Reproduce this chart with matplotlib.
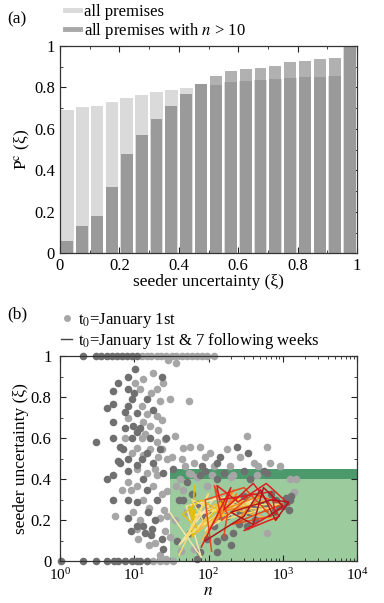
import numpy as np
from matplotlib import pyplot as plt
from matplotlib.lines import Line2D

plt.rcParams['font.family'] = ['Liberation Serif', 'DejaVu Serif']
plt.rcParams['mathtext.fontset'] = 'stix'

# ---- panel (a): cumulative fraction per bin of seeder uncertainty
bin_centres = np.arange(0.025, 1.0, 0.05)
pc_all = [0.693, 0.705, 0.709, 0.729, 0.750, 0.762, 0.777, 0.785, 0.796, 0.814,
          0.811, 0.825, 0.830, 0.835, 0.841, 0.844, 0.849, 0.851, 0.854, 1.0]
pc_n10 = [0.059, 0.133, 0.181, 0.319, 0.480, 0.568, 0.645, 0.709, 0.767, 0.814,
          0.856, 0.878, 0.886, 0.894, 0.902, 0.923, 0.929, 0.936, 0.941, 1.0]

# ---- panel (b): scatter of seeder uncertainty vs n (t0 = January 1st)
n_dark = [3.1, 4.3, 4.3, 5.2, 5.2, 5.2, 5.2, 5.2, 5.2, 6.1, 6.4, 6.4, 7.5, 7.5,
          8.3, 8.3, 8.3, 8.3, 8.3, 8.3, 8.3, 9.3, 9.3, 9.7, 10.3, 10.8, 10.8,
          10.8, 10.8, 10.8, 12.6, 13.3, 13.3, 14, 14.8, 14.8, 15.5, 16.3, 17.2,
          18.1, 18.1, 20, 23.5, 23.5, 24.7, 24.7, 33.6, 81, 130, 143, 240, 345,
          46, 56, 69, 77, 95, 117, 130, 143, 216, 265, 330, 405, 750, 1000,
          1250, 1130, 51, 77, 130, 365, 610,
          7, 9, 12, 15, 19, 22, 27, 6, 10, 17,
          100, 120, 150, 180, 220, 260, 300, 350, 420, 500, 600, 800, 900,
          1100, 1300, 1200, 700, 160, 200, 130, 110, 85, 70, 60, 40, 38,
          90, 160, 300, 550,
          1.05, 2.06, 3.1, 4.3, 5.3, 6.1, 7.5, 9.3, 10.8, 12, 14.8,
          2.06, 3.1, 3.6, 4.3, 5.0, 5.8, 6.8, 7.9, 9.2, 10.8]
xi_dark = [0.58, 0.75, 0.40, 0.83, 0.77, 0.68, 0.60, 0.42, 0.30, 0.87, 0.56, 0.48,
           0.73, 0.65, 0.90, 0.84, 0.76, 0.50, 0.44, 0.30, 0.21, 0.79, 0.60,
           0.66, 0.94, 0.725, 0.63, 0.47, 0.29, 0.175, 0.50, 0.40, 0.175, 0.14,
           0.79, 0.53, 0.24, 0.60, 0.16, 0.74, 0.48, 0.30, 0.90, 0.11, 0.43,
           0.06, 0.45, 0.466, 0.48, 0.51, 0.56, 0.53,
           0.30, 0.14, 0.013, 0.045, 0.11, 0.175, 0.045, 0.22, 0.14, 0.24, 0.175,
           0.27, 0.24, 0.27, 0.30, 0.29, 0.385, 0.42, 0.40, 0.40, 0.43,
           0.55, 0.15, 0.65, 0.35, 0.20, 0.55, 0.60, 0.49, 0.82, 0.13,
           0.25, 0.20, 0.30, 0.22, 0.27, 0.18, 0.32, 0.24, 0.20, 0.28, 0.26,
           0.30, 0.27, 0.31, 0.32, 0.25, 0.33, 0.12, 0.08, 0.10, 0.18, 0.22,
           0.28, 0.33, 0.30, 0.10,
           0.44, 0.43, 0.44, 0.44,
           0.0, 0.0, 0.0, 0.0, 0.0, 0.0, 0.0, 0.0, 0.0, 0.0, 0.0,
           1.0, 1.0, 1.0, 1.0, 1.0, 1.0, 1.0, 1.0, 1.0, 1.0]
n_light = [5.5, 6.8, 7.5, 8.3, 8.3, 9.3, 9.7, 10.3, 10.8, 10.8, 11.4, 12, 12.6,
           12.6, 13.3, 13.3, 13.3, 14.8, 16.3, 16.3, 18.1, 18.1, 19, 20, 20, 20,
           20, 21, 22.4, 23.5, 23.5, 24.7, 26, 27.4, 27.4, 28.8, 30, 32, 35, 37,
           41, 43.6, 46, 48, 54, 56, 59, 63, 77, 90, 105, 117, 176, 195, 265,
           330, 405, 470, 610, 680, 920, 1250, 37, 51, 63, 176, 495, 610, 1400,
           95, 216, 16, 30, 22, 27,
           9, 11, 12, 14, 15, 17, 19, 21, 24, 26, 28, 13, 16, 22, 25, 11,
           45, 35, 42, 55, 70, 110, 200, 450, 1500,
           12.6, 14.8, 17, 20, 23, 27, 32, 37, 44, 51, 60, 69, 82, 95, 117,
           18, 22, 27, 33]
xi_light = [0.22, 0.35, 0.60, 0.70, 0.385, 0.53, 0.24, 0.87, 0.555, 0.37, 0.11,
            0.84, 0.76, 0.60, 0.89, 0.68, 0.30, 0.43, 0.66, 0.55, 0.92, 0.37,
            0.09, 0.84, 0.71, 0.58, 0.42, 0.51, 0.21, 0.69, 0.55, 0.87, 0.595,
            0.345, 0.22, 0.98, 0.79, 0.51, 0.61, 0.97, 0.40, 0.50, 0.555, 0.466,
            0.78, 0.56, 0.425, 0.48, 0.56, 0.51, 0.53, 0.466, 0.55, 0.466, 0.51,
            0.61, 0.48, 0.466, 0.56, 0.48, 0.466, 0.40, 0.37, 0.24, 0.06, 0.30,
            0.21, 0.14, 0.34, 0.37, 0.42, 0.08, 0.12, 0.03, 0.01,
            0.35, 0.45, 0.20, 0.62, 0.72, 0.82, 0.45, 0.64, 0.33, 0.15, 0.50,
            0.52, 0.26, 0.78, 0.25, 0.16,
            0.35, 0.20, 0.05, 0.43, 0.41, 0.42, 0.41, 0.42, 0.40,
            1.0, 1.0, 1.0, 1.0, 1.0, 1.0, 1.0, 1.0, 1.0, 1.0, 1.0, 1.0, 1.0,
            1.0, 1.0, 0.0, 0.0, 0.0, 0.0]

# ---- trajectories for t0 = January 1st & 7 following weeks
week_colours = ['#f3e4a8', '#e6be10', '#f8dc70', '#f4bc40',
                '#f08a20', '#e8481a', '#dc2020', '#b01820']
week_n = [
    [30, 80, 50, 200, 90, 400, 60, 150, 40, 120, 300],
    [65, 60, 55, 70, 45, 80, 120, 200, 60, 65],
    [40, 100, 50, 250, 700, 150, 1000, 90, 60, 180],
    [80, 200, 300, 150, 600, 800, 120, 70, 250, 400],
    [100, 180, 220, 130, 350, 250, 500, 180, 120, 240, 210],
    [110, 90, 300, 700, 200, 1000, 400, 150, 120, 180, 160],
    [80, 200, 160, 400, 900, 300, 1200, 600, 250, 130, 140, 700, 800],
    [90, 300, 500, 800, 1200, 700, 200, 400, 550, 1000, 650],
]
week_xi = [
    [0.24, 0.02, 0.27, 0.32, 0.15, 0.30, 0.22, 0.28, 0.08, 0.31, 0.25],
    [0.37, 0.20, 0.27, 0.16, 0.23, 0.30, 0.26, 0.33, 0.12, 0.25],
    [0.03, 0.33, 0.12, 0.30, 0.25, 0.27, 0.28, 0.18, 0.30, 0.22],
    [0.10, 0.34, 0.26, 0.22, 0.30, 0.20, 0.28, 0.14, 0.31, 0.24],
    [0.15, 0.30, 0.35, 0.24, 0.27, 0.20, 0.32, 0.26, 0.19, 0.33, 0.29],
    [0.05, 0.30, 0.36, 0.22, 0.18, 0.28, 0.33, 0.20, 0.37, 0.23, 0.12],
    [0.07, 0.36, 0.25, 0.38, 0.22, 0.15, 0.28, 0.38, 0.29, 0.37, 0.30, 0.34, 0.23],
    [0.10, 0.22, 0.35, 0.20, 0.29, 0.30, 0.24, 0.18, 0.36, 0.27, 0.22],
]

fig = plt.figure(figsize=(3.84, 6.03), dpi=100)

# panel (a)
ax1 = fig.add_axes([0.156, 0.580, 0.774, 0.344])
ax1.bar(bin_centres, pc_all, width=0.043, color='#dadada', zorder=2)
ax1.bar(bin_centres, pc_n10, width=0.040, color='#3c3c3c', alpha=0.40, zorder=3)
ax1.set_xlim(0, 1)
ax1.set_ylim(0, 1)
ax1.set_xticks([0, 0.2, 0.4, 0.6, 0.8, 1])
ax1.set_xticklabels(['0', '0.2', '0.4', '0.6', '0.8', '1'])
ax1.set_yticks([0, 0.2, 0.4, 0.6, 0.8, 1])
ax1.set_yticklabels(['0', '0.2', '0.4', '0.6', '0.8', '1'])
ax1.set_xticks(np.arange(0.1, 1, 0.2), minor=True)
ax1.set_yticks(np.arange(0.1, 1, 0.2), minor=True)
ax1.set_xlabel('seeder uncertainty (ξ)', fontsize=12.5, labelpad=0)
ax1.set_ylabel('P$^{\\mathrm{c}}$ (ξ)', fontsize=12.5, labelpad=1)
h1 = [Line2D([], [], color='#dadada', lw=3.5),
      Line2D([], [], color='#a8a8a8', lw=3.5)]
ax1.legend(h1, ['all premises', 'all premises with $n$ > 10'],
           loc='lower left', bbox_to_anchor=(-0.01, 0.985), frameon=False,
           fontsize=12, handlelength=0.9, handletextpad=0.25,
           borderpad=0.0, labelspacing=0.05)
fig.text(0.018, 0.962, '(a)', fontsize=12.5)

# panel (b)
ax2 = fig.add_axes([0.156, 0.069, 0.774, 0.340])
ax2.fill_between([30, 1e4], 0, 0.4, color='#9ccb9e', lw=0, zorder=0)
ax2.fill_between([30, 1e4], 0.4, 0.45, color='#4c9a6c', lw=0, zorder=0)
ax2.scatter(n_light, xi_light, s=30, color='#a6a6a6', lw=0, zorder=2, clip_on=False)
ax2.scatter(n_dark, xi_dark, s=30, color='#707070', lw=0, zorder=2, clip_on=False)
for c, xs, ys in zip(week_colours, week_n, week_xi):
    ax2.plot(xs, ys, color=c, lw=1.1, zorder=3)
ax2.set_xscale('log')
ax2.set_xlim(1, 1e4)
ax2.set_ylim(0, 1)
ax2.set_yticks([0, 0.2, 0.4, 0.6, 0.8, 1])
ax2.set_yticklabels(['0', '0.2', '0.4', '0.6', '0.8', '1'])
ax2.set_yticks(np.arange(0.1, 1, 0.2), minor=True)
ax2.set_xlabel('$n$', fontsize=12.5, labelpad=0)
ax2.set_ylabel('seeder uncertainty (ξ)', fontsize=12.5, labelpad=1)
h2 = [Line2D([], [], marker='o', ls='none', color='#a6a6a6', markersize=5, mew=0),
      Line2D([], [], color='#444444', lw=1.0)]
ax2.legend(h2, ['t$_0$=January 1st', 't$_0$=January 1st & 7 following weeks'],
           loc='lower left', bbox_to_anchor=(-0.025, 0.985), frameon=False,
           fontsize=12, handlelength=0.7, handletextpad=0.35,
           borderpad=0.0, labelspacing=0.05)
fig.text(0.018, 0.472, '(b)', fontsize=12.5)

for ax in (ax1, ax2):
    ax.tick_params(which='both', direction='in', top=True, right=True,
                   labelsize=12, color='#222222')
    ax.tick_params(which='major', length=4)
    ax.tick_params(which='minor', length=2)
    for sp in ax.spines.values():
        sp.set_color('#333333')
        sp.set_linewidth(0.9)
ax2.tick_params(axis='x', pad=4, labelsize=11)
ax2.tick_params(axis='y', pad=6)

fig.savefig('out.png', dpi=100)
